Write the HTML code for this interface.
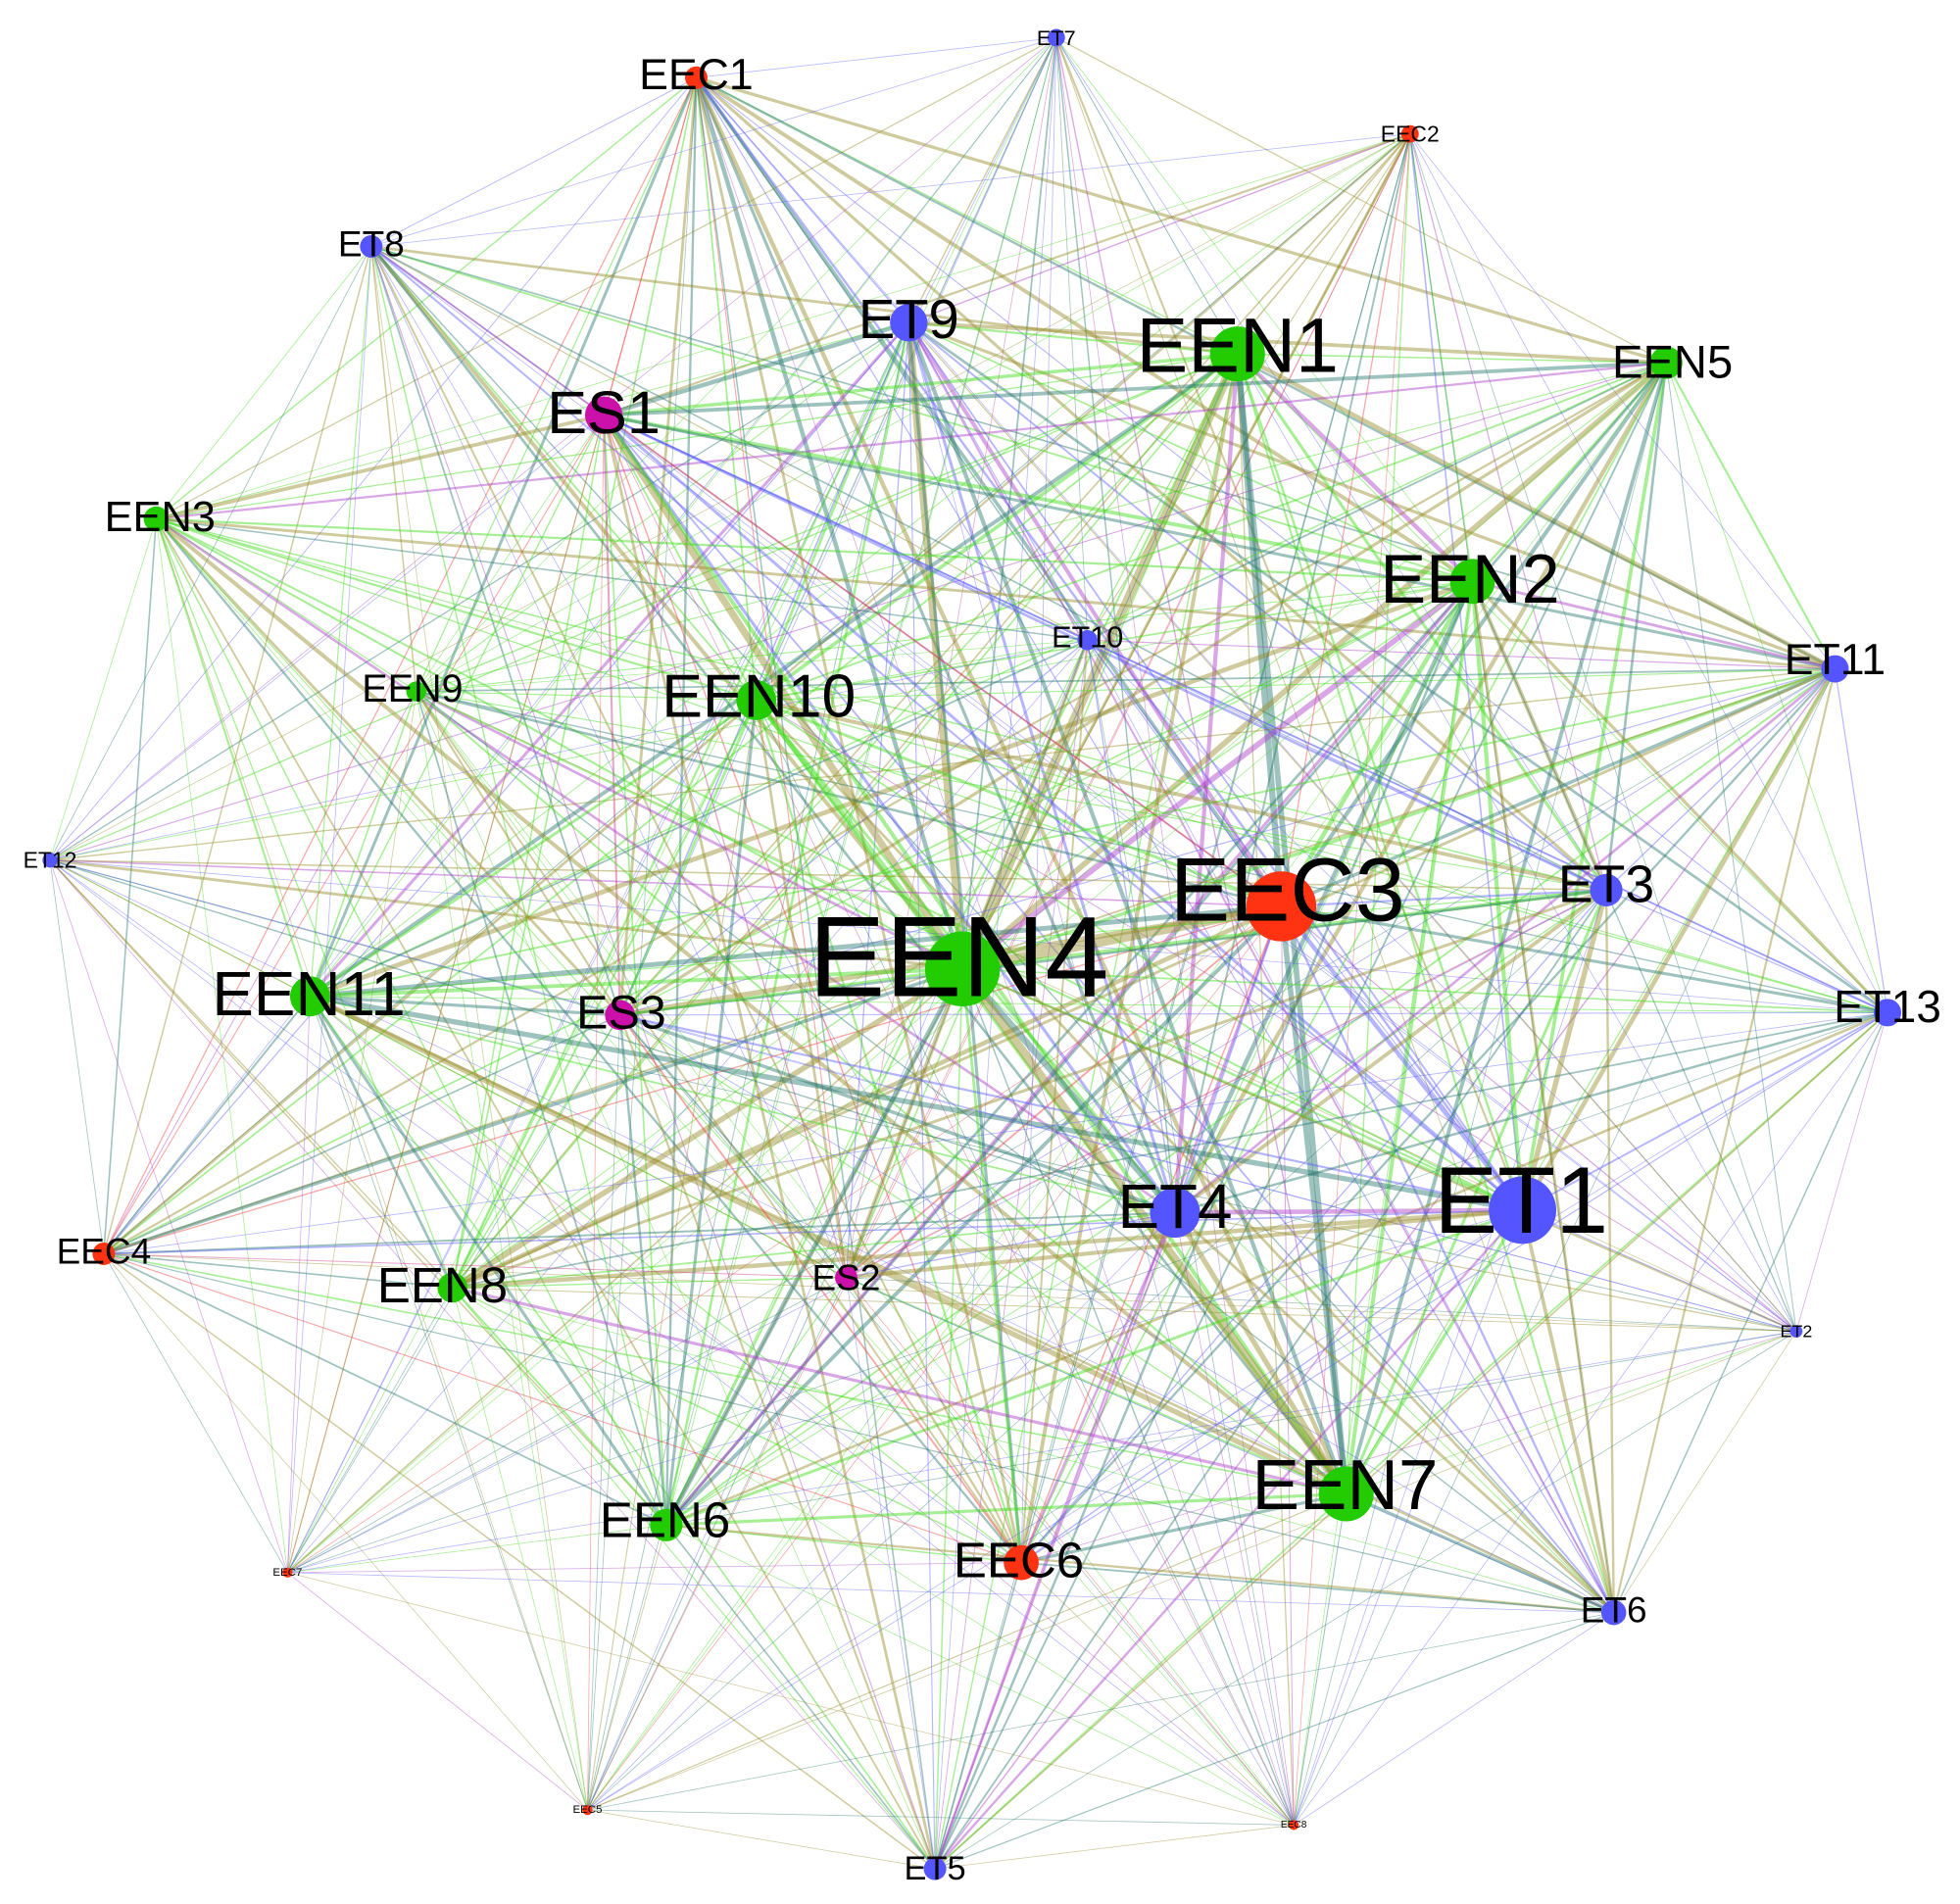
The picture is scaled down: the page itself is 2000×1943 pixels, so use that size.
<!DOCTYPE html>
<html><head><meta charset="utf-8"><style>html,body{margin:0;padding:0;background:#fff}svg{display:block}text{font-family:"Liberation Sans",sans-serif;fill:#000;text-anchor:middle;dominant-baseline:central}</style></head>
<body>
<svg id="g" width="2000" height="1943" viewBox="0 0 1568 1523" xmlns="http://www.w3.org/2000/svg">
<g id="edges"></g>
<g id="nodes"></g>
<g id="labels">
<text x="557" y="60" font-size="35">EEC1</text>
<text x="845" y="30" font-size="17">ET7</text>
<text x="1128" y="107" font-size="18">EEC2</text>
<text x="297" y="195" font-size="29">ET8</text>
<text x="727" y="255" font-size="44">ET9</text>
<text x="990" y="276" font-size="62">EEN1</text>
<text x="1338" y="290" font-size="37">EEN5</text>
<text x="483" y="330" font-size="48">ES1</text>
<text x="128" y="414" font-size="34">EEN3</text>
<text x="1176" y="463" font-size="55">EEN2</text>
<text x="870" y="510" font-size="24">ET10</text>
<text x="1468" y="528" font-size="35">ET11</text>
<text x="330" y="551" font-size="31">EEN9</text>
<text x="607" y="557" font-size="49">EEN10</text>
<text x="40" y="688" font-size="18">ET12</text>
<text x="1030" y="712" font-size="72">EEC3</text>
<text x="1285" y="708" font-size="42">ET3</text>
<text x="767" y="765" font-size="92">EEN4</text>
<text x="247" y="795" font-size="50">EEN11</text>
<text x="497" y="810" font-size="38">ES3</text>
<text x="1510" y="805" font-size="36">ET13</text>
<text x="940" y="965" font-size="50">ET4</text>
<text x="1217" y="960" font-size="76">ET1</text>
<text x="83" y="1001" font-size="29">EEC4</text>
<text x="354" y="1028" font-size="40">EEN8</text>
<text x="677" y="1022" font-size="29">ES2</text>
<text x="1437" y="1065" font-size="14">ET2</text>
<text x="1076" y="1188" font-size="57">EEN7</text>
<text x="532" y="1216" font-size="40">EEN6</text>
<text x="815" y="1248" font-size="40">EEC6</text>
<text x="230" y="1258" font-size="9">EEC7</text>
<text x="1291" y="1288" font-size="29">ET6</text>
<text x="470" y="1448" font-size="9">EEC5</text>
<text x="1035" y="1460" font-size="8">EEC8</text>
<text x="748" y="1495" font-size="27">ET5</text>
</g>
</svg>
<script>
var N=[
["EEC1",557,62,1.4,"r",9],["ET7",845,30,0.6,"b",7],["EEC2",1128,107,0.8,"r",7],["ET8",297,197,1,"b",9],
["ET9",727,258,1.8,"b",15],["EEN1",990,283,2.2,"g",22],["EEN5",1333,290,1.6,"g",13],["ES1",483,332,2,"m",15],
["EEN3",125,415,1.4,"g",10],["EEN2",1178,465,2,"g",18],["ET10",870,512,0.9,"b",8],["ET11",1468,535,1.4,"b",11],
["EEN9",333,553,1,"g",8],["EEN10",605,560,1.9,"g",16],["ET12",40,688,0.7,"b",6],["EEC3",1025,725,2.4,"r",28],
["ET3",1285,712,1.5,"b",13],["EEN4",770,775,2.8,"g",30],["EEN11",248,797,1.7,"g",16],["ES3",496,812,1.5,"m",12],
["ET13",1510,810,1.2,"b",11],["ET4",940,970,1.9,"b",20],["ET1",1218,968,2.5,"b",27],["EEC4",83,1003,1,"r",9],
["EEN8",362,1030,1.4,"g",12],["ES2",677,1022,1.1,"m",9],["ET2",1437,1065,0.5,"b",5],["EEN7",1077,1195,2.2,"g",22],
["EEN6",533,1220,1.5,"g",13],["EEC6",817,1250,1.4,"r",14],["EEC7",230,1258,0.4,"r",4],["ET6",1291,1290,1.1,"b",10],
["EEC5",470,1448,0.4,"r",4],["EEC8",1035,1460,0.4,"r",4],["ET5",748,1495,1,"b",9]];
var C={g:"#22cc00",b:"#5555ff",r:"#ff3311",m:"#cc11aa"};
var EC=["rgba(60,220,20,0.45)","rgba(90,90,255,0.45)","rgba(240,60,60,0.45)","rgba(150,140,40,0.45)","rgba(40,120,110,0.45)","rgba(170,60,200,0.45)","rgba(200,60,130,0.45)"];
var ns="http://www.w3.org/2000/svg",E=document.getElementById("edges"),V=document.getElementById("nodes");
function rnd(i,j){var s=Math.sin(i*12.9898+j*78.233)*43758.5453;return s-Math.floor(s);}
for(var i=0;i<N.length;i++)for(var j=i+1;j<N.length;j++){
 var a=N[i],b=N[j],r=rnd(i,j);
 if(r<0.12&&a[3]*b[3]<2)continue;
 var w=a[3]*b[3]*(0.3+r)*0.9; if(w>12)w=12;
 var ci;var t=a[4]+b[4];
 if(t.indexOf("g")>=0&&r<0.55)ci=0;else if(t.indexOf("b")>=0&&r<0.5)ci=1;else if(t.indexOf("r")>=0&&r<0.5)ci=2;else if(t.indexOf("m")>=0&&r<0.6)ci=6;else ci=[3,4,5,4,3][Math.floor(r*5)];
 var l=document.createElementNS(ns,"line");
 l.setAttribute("x1",a[1]);l.setAttribute("y1",a[2]);l.setAttribute("x2",b[1]);l.setAttribute("y2",b[2]);
 l.setAttribute("stroke",EC[ci]);l.setAttribute("stroke-width",Math.max(0.6,w).toFixed(2));E.appendChild(l);}
N.forEach(function(n){var c=document.createElementNS(ns,"circle");c.setAttribute("cx",n[1]);c.setAttribute("cy",n[2]);c.setAttribute("r",n[5]);c.setAttribute("fill",C[n[4]]);V.appendChild(c);});
</script>
</body></html>
